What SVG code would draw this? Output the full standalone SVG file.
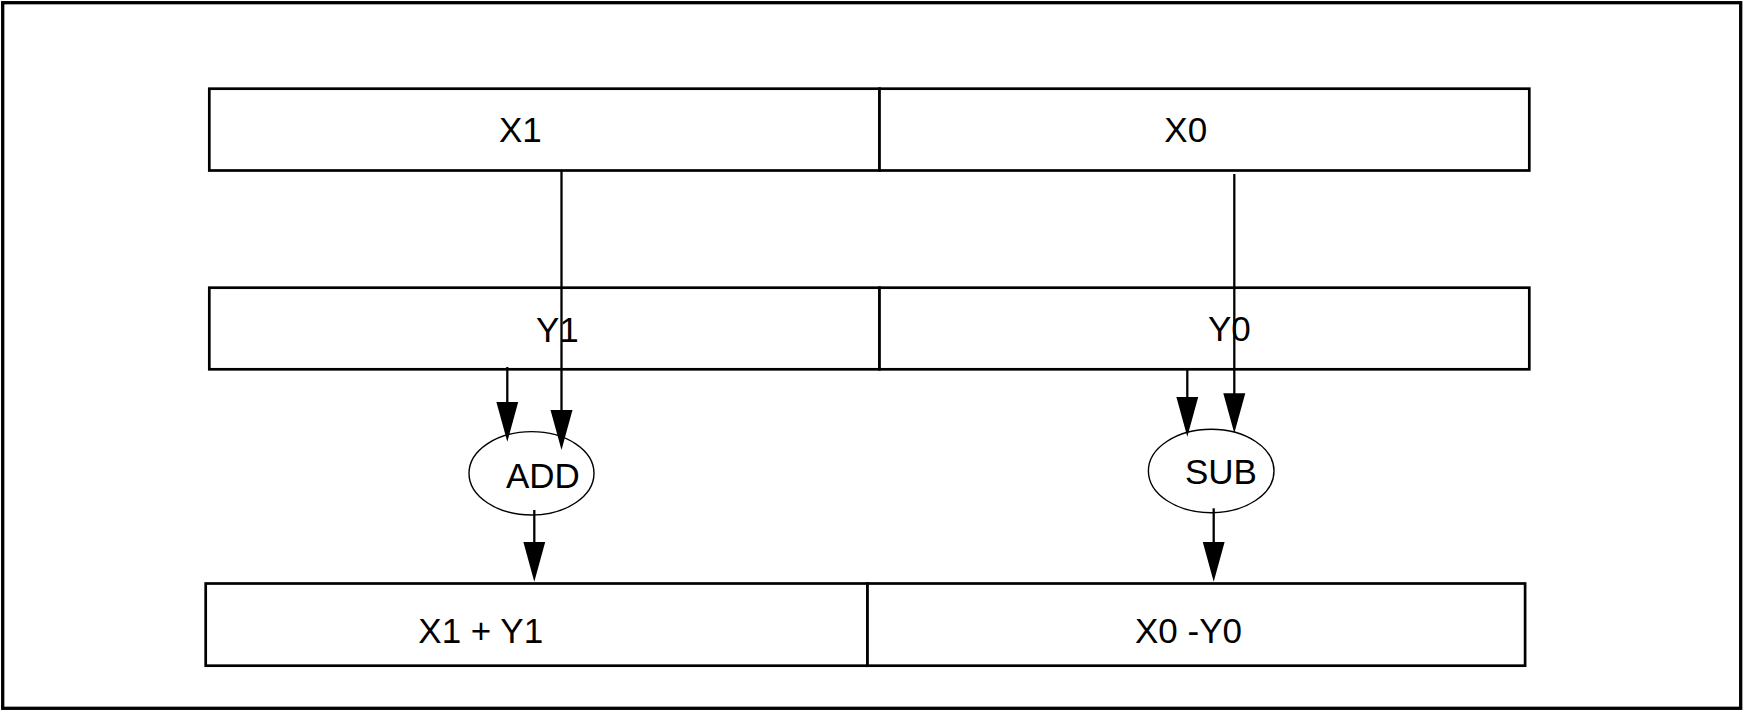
<svg xmlns="http://www.w3.org/2000/svg" width="1743" height="711" viewBox="0 0 1743 711">
  <style>
    .cell { fill: #ffffff; stroke: #000000; stroke-width: 2.7; }
    .op { fill: #ffffff; stroke: #000000; stroke-width: 1.4; }
    .lbl { font-family: "Liberation Sans", Arial, sans-serif; font-size: 35px; fill: #000000; }
    .wire { fill: none; stroke: #000000; stroke-width: 2.3; marker-end: url(#arrow); }
  </style>
  <defs>
    <marker id="arrow" markerUnits="userSpaceOnUse" viewBox="0 -12 41 24" refX="30" refY="0" markerWidth="41" markerHeight="24" orient="auto">
      <path d="M0,-11 L40,0 L0,11 z" fill="#000000"/>
    </marker>
  </defs>
  <rect width="1743" height="711" fill="#ffffff"/>
  <rect id="frame" x="2.7" y="2.7" width="1738" height="705.6" fill="none" stroke="#000000" stroke-width="3.3"/>

  <g id="node-x1">
    <rect class="cell" x="209.3" y="88.7" width="670.2" height="81.8"/>
    <text class="lbl" x="499" y="142.3">X1</text>
  </g>
  <g id="node-x0">
    <rect class="cell" x="879.5" y="88.7" width="649.8" height="81.8"/>
    <text class="lbl" x="1164.3" y="142.3">X0</text>
  </g>
  <g id="node-y1">
    <rect class="cell" x="209.3" y="287.7" width="670.2" height="81.6"/>
    <text class="lbl" x="536" y="341.5">Y1</text>
  </g>
  <g id="node-y0">
    <rect class="cell" x="879.5" y="287.7" width="649.8" height="81.6"/>
    <text class="lbl" x="1208" y="340.7">Y0</text>
  </g>
  <g id="node-add">
    <ellipse class="op" cx="531.5" cy="473.3" rx="62.5" ry="41.7"/>
    <text class="lbl" x="506" y="488.3">ADD</text>
  </g>
  <g id="node-sub">
    <ellipse class="op" cx="1211.2" cy="471" rx="62.8" ry="41.7"/>
    <text class="lbl" x="1185" y="484.3">SUB</text>
  </g>
  <g id="node-sum">
    <rect class="cell" x="205.7" y="583.5" width="661.8" height="82.2"/>
    <text class="lbl" x="418.3" y="643.3">X1 + Y1</text>
  </g>
  <g id="node-diff">
    <rect class="cell" x="867.5" y="583.5" width="657.6" height="82.2"/>
    <text class="lbl" x="1135" y="643.3">X0 -Y0</text>
  </g>

  <g id="connectors">
    <line class="wire" x1="561.5" y1="170.5" x2="561.5" y2="440"/>
    <line class="wire" x1="507.3" y1="367" x2="507.3" y2="431.7"/>
    <line class="wire" x1="534.3" y1="510" x2="534.3" y2="571.7"/>
    <line class="wire" x1="1234.3" y1="174" x2="1234.3" y2="423.3"/>
    <line class="wire" x1="1187.3" y1="369.3" x2="1187.3" y2="426.7"/>
    <line class="wire" x1="1213.7" y1="508.3" x2="1213.7" y2="571.7"/>
  </g>
</svg>
